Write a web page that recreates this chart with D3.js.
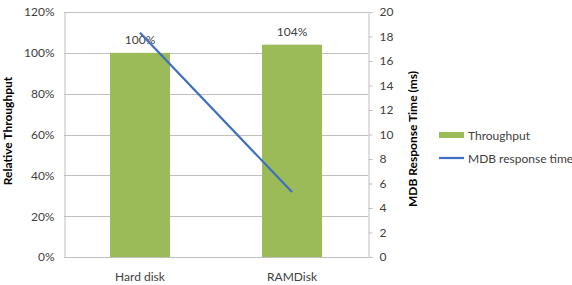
<!DOCTYPE html>
<html>
<head>
<meta charset="utf-8">
<script src="https://cdn.jsdelivr.net/npm/d3@7"></script>
<style>
  body { margin: 0; background: #fff; }
  text { font-family: Lato, "Open Sans", sans-serif; fill: #404040; }
</style>
</head>
<body>
<svg id="chart" width="572" height="285"></svg>
<script>
// данные с картинки
const categories = ["Hard disk", "RAMDisk"];
const throughput = [1.00, 1.04];        // относительная пропускная способность
const responseTime = [18.3, 5.3];       // мс
const leftTicks = [0, 0.2, 0.4, 0.6, 0.8, 1.0, 1.2];
const rightTicks = [0, 2, 4, 6, 8, 10, 12, 14, 16, 18, 20];
const seriesNames = ["Throughput", "MDB response time"];

const svg = d3.select("#chart");
const plotLeft = 64, plotRight = 368, plotTop = 12, plotBottom = 257;

const x = d3.scaleBand().domain(categories).range([plotLeft, plotRight]);
const yL = d3.scaleLinear().domain([0, 1.2]).range([plotBottom, plotTop]);
const yR = d3.scaleLinear().domain([0, 20]).range([plotBottom, plotTop]);
const barW = x.bandwidth() * 0.395;

// сетка
svg.append("g").selectAll("line")
    .data(leftTicks)
    .enter().append("line")
    .attr("x1", plotLeft).attr("x2", plotRight)
    .attr("y1", d => Math.round(yL(d)) + 0.5)
    .attr("y2", d => Math.round(yL(d)) + 0.5)
    .attr("stroke", "#bfbfbf");

// левая ось
const axL = svg.append("g")
    .attr("transform", `translate(${plotLeft + 0.5},0)`)
    .call(d3.axisLeft(yL).tickValues(leftTicks).tickFormat(d3.format(".0%")).tickSize(0).tickPadding(10));
axL.select(".domain").attr("stroke", "#bfbfbf");
axL.selectAll("text").style("font-size", "12px").style("font-family", "Lato, sans-serif").attr("fill", "#404040");

// правая ось
const axR = svg.append("g")
    .attr("transform", `translate(${plotRight + 0.5},0)`)
    .call(d3.axisRight(yR).tickValues(rightTicks).tickSize(4).tickPadding(7));
axR.select(".domain").attr("stroke", "#bfbfbf");
axR.selectAll(".tick line").attr("stroke", "#bfbfbf");
axR.selectAll("text").style("font-size", "12px").style("font-family", "Lato, sans-serif").attr("fill", "#404040");

// столбцы
svg.append("g").selectAll("rect")
    .data(categories)
    .enter().append("rect")
    .attr("x", d => x(d) + x.bandwidth() / 2 - barW / 2)
    .attr("width", barW)
    .attr("y", (d, i) => yL(throughput[i]))
    .attr("height", (d, i) => plotBottom - yL(throughput[i]))
    .attr("fill", "#9bbb59");

// подписи значений
svg.append("g").selectAll("text")
    .data(categories)
    .enter().append("text")
    .attr("x", d => x(d) + x.bandwidth() / 2)
    .attr("y", (d, i) => yL(throughput[i]) - 9)
    .attr("text-anchor", "middle")
    .style("font-size", "12px")
    .text((d, i) => d3.format(".0%")(throughput[i]));

// линия времени отклика
const line = d3.line()
    .x((d, i) => x(categories[i]) + x.bandwidth() / 2)
    .y(d => yR(d));
svg.append("path")
    .datum(responseTime)
    .attr("d", line)
    .attr("fill", "none")
    .attr("stroke", "#3f6fc0")
    .attr("stroke-width", 2.2);

// подписи категорий
svg.append("g").selectAll("text")
    .data(categories)
    .enter().append("text")
    .attr("x", d => x(d) + x.bandwidth() / 2)
    .attr("y", 281)
    .attr("text-anchor", "middle")
    .style("font-size", "12px")
    .text(d => d);

// заголовки осей
svg.append("text")
    .attr("transform", "translate(12,131) rotate(-90)")
    .attr("text-anchor", "middle")
    .style("font-size", "12px").style("font-weight", "bold")
    .style("fill", "#000")
    .text("Relative Throughput");
svg.append("text")
    .attr("transform", "translate(417,139) rotate(-90)")
    .attr("text-anchor", "middle")
    .style("font-size", "12px").style("font-weight", "bold")
    .style("fill", "#000")
    .text("MDB Response Time (ms)");

// легенда
const lg = svg.append("g").attr("transform", "translate(439,0)");
lg.append("rect").attr("x", 0).attr("y", 132).attr("width", 25).attr("height", 6).attr("fill", "#9bbb59");
lg.append("text").attr("x", 29).attr("y", 139.5).style("font-size", "12px").text(seriesNames[0]);
lg.append("line").attr("x1", 0).attr("x2", 25).attr("y1", 158).attr("y2", 158)
    .attr("stroke", "#3f6fc0").attr("stroke-width", 2.2);
lg.append("text").attr("x", 29).attr("y", 162.5).style("font-size", "12px").text(seriesNames[1]);
</script>
</body>
</html>
